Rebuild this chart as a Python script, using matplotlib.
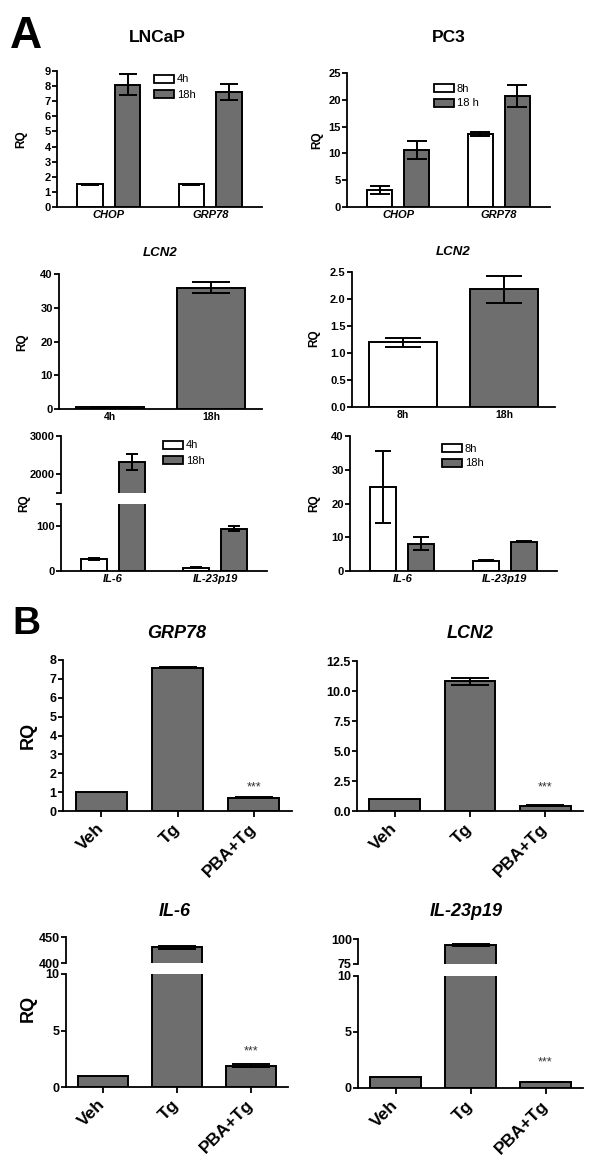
import numpy as np
import matplotlib
matplotlib.use("Agg")
import matplotlib.pyplot as plt
from matplotlib.patches import Patch
from matplotlib.ticker import FormatStrFormatter

plt.rcParams['font.family'] = ['Liberation Sans', 'DejaVu Sans']
plt.rcParams['font.weight'] = 'bold'

# ---------------- data ----------------
er_genes = ['CHOP', 'GRP78']
lncap_er_4h = [1.5, 1.5]
lncap_er_4h_err = [0.05, 0.05]
lncap_er_18h = [8.1, 7.6]
lncap_er_18h_err = [0.68, 0.52]

pc3_er_8h = [3.2, 13.6]
pc3_er_8h_err = [0.75, 0.3]
pc3_er_18h = [10.7, 20.7]
pc3_er_18h_err = [1.7, 2.0]

lncap_times = ['4h', '18h']
lncap_lcn2 = [0.6, 36.0]
lncap_lcn2_err = [0.05, 1.5]
pc3_times = ['8h', '18h']
pc3_lcn2 = [1.2, 2.18]
pc3_lcn2_err = [0.085, 0.25]

cyt_genes = ['IL-6', 'IL-23p19']
lncap_cyt_4h = [27, 7]
lncap_cyt_4h_err = [2, 1]
lncap_cyt_18h = [2320, 95]
lncap_cyt_18h_err = [210, 6]
pc3_cyt_8h = [24.8, 3.0]
pc3_cyt_8h_err = [10.7, 0.15]
pc3_cyt_18h = [8.1, 8.7]
pc3_cyt_18h_err = [1.9, 0.2]

treatments = ['Veh', 'Tg', 'PBA+Tg']
b_grp78 = [1.0, 7.6, 0.7]
b_grp78_err = [0.0, 0.04, 0.02]
b_lcn2 = [1.0, 10.8, 0.45]
b_lcn2_err = [0.0, 0.32, 0.03]
b_il6 = [1.0, 430, 1.9]
b_il6_err = [0.0, 3.0, 0.15]
b_il23 = [1.0, 94, 0.55]
b_il23_err = [0.0, 1.0, 0.02]

# ---------------- style ----------------
W, H = 600, 1161
GRAY = '#6e6e6e'
LW = 1.3
BLW = 1.4

fig = plt.figure(figsize=(W / 100, H / 100), dpi=100)


def add_ax(x0, yt, x1, yb):
    return fig.add_axes([x0 / W, 1 - yb / H, (x1 - x0) / W, (yb - yt) / H])


def ftxt(x, y, s, **kw):
    kw.setdefault('ha', 'center')
    kw.setdefault('va', 'center')
    fig.text(x / W, 1 - y / H, s, **kw)


def style(ax, ysize, bottom=True):
    ax.spines['top'].set_visible(False)
    ax.spines['right'].set_visible(False)
    ax.spines['left'].set_linewidth(LW)
    ax.spines['bottom'].set_linewidth(LW)
    if not bottom:
        ax.spines['bottom'].set_visible(False)
        ax.tick_params(axis='x', bottom=False, labelbottom=False)
    ax.tick_params(axis='y', direction='out', length=3.5, width=LW,
                   labelsize=ysize, pad=1)
    ax.set_facecolor('none')


def errs(ax, x, v, e, cs):
    x = np.asarray(x, float)
    v = np.asarray(v, float)
    e = np.asarray(e, float)
    m = e > 0
    if m.any():
        ax.errorbar(x[m], v[m], yerr=e[m], fmt='none', ecolor='black',
                    elinewidth=BLW, capsize=cs, capthick=BLW, zorder=3)


def grouped(ax, cats, s1, e1, s2, e2, cs=6):
    x = np.arange(len(cats))
    off, bw = 0.185, 0.25
    ax.bar(x - off, s1, bw, color='white', edgecolor='black', lw=BLW, zorder=2)
    ax.bar(x + off, s2, bw, color=GRAY, edgecolor='black', lw=BLW, zorder=2)
    errs(ax, x - off, s1, e1, cs)
    errs(ax, x + off, s2, e2, cs)
    ax.set_xlim(-0.51, 1.51)
    ax.set_xticks(x)
    ax.set_xticklabels(cats, style='italic', fontweight='bold', fontsize=8)
    ax.tick_params(axis='x', length=0, pad=2)


def single(ax, cats, vals, e, colors, cs=13.5):
    x = np.arange(len(cats))
    ax.bar(x, vals, 0.67, color=colors, edgecolor='black', lw=BLW, zorder=2)
    errs(ax, x, vals, e, cs)
    ax.set_xlim(-0.5, len(cats) - 0.5)
    ax.set_xticks(x)


def legend(ax, labels, x, y):
    h = [Patch(facecolor='white', edgecolor='black', lw=LW, label=labels[0]),
         Patch(facecolor=GRAY, edgecolor='black', lw=LW, label=labels[1])]
    ax.legend(handles=h, loc='upper left', bbox_to_anchor=(x / W, 1 - y / H),
              bbox_transform=fig.transFigure, frameon=False,
              prop={'size': 8, 'weight': 'normal'}, handlelength=1.8,
              handleheight=0.75, handletextpad=0.25, labelspacing=0.45,
              borderpad=0, borderaxespad=0)


ATK = 8  # tick label size panel A

# ---------------- Panel A ----------------
ftxt(10, 36, 'A', fontsize=32, ha='left', fontweight='bold')
ftxt(157, 38, 'LNCaP', fontsize=12.5)
ftxt(449, 38, 'PC3', fontsize=12.5)

# A1
ax = add_ax(57, 71, 262, 207)
grouped(ax, er_genes, lncap_er_4h, lncap_er_4h_err, lncap_er_18h, lncap_er_18h_err, cs=6.5)
ax.set_ylim(0, 9)
ax.set_yticks(range(0, 10))
style(ax, ATK)
legend(ax, ['4h', '18h'], 154, 74.5)
ftxt(21, 139, 'RQ', fontsize=8.5, rotation=90)

# A2
ax = add_ax(347, 73, 550, 207)
grouped(ax, er_genes, pc3_er_8h, pc3_er_8h_err, pc3_er_18h, pc3_er_18h_err, cs=7.5)
ax.set_ylim(0, 25)
ax.set_yticks(range(0, 26, 5))
style(ax, ATK)
legend(ax, ['8h', '18 h'], 434, 83.5)
ftxt(317, 140, 'RQ', fontsize=8.5, rotation=90)

# A3
ax = add_ax(59, 274, 262, 409)
single(ax, lncap_times, lncap_lcn2, lncap_lcn2_err, ['white', GRAY], cs=14)
ax.set_xticklabels(lncap_times, fontsize=7.5, fontweight='bold')
ax.tick_params(axis='x', length=0, pad=2)
ax.set_ylim(0, 40)
ax.set_yticks(range(0, 41, 10))
style(ax, ATK)
ftxt(160, 253, 'LCN2', fontsize=9.5, style='italic')
ftxt(22, 342, 'RQ', fontsize=8.5, rotation=90)

# A4
ax = add_ax(352, 272, 555, 407)
single(ax, pc3_times, pc3_lcn2, pc3_lcn2_err, ['white', GRAY], cs=13)
ax.set_xticklabels(pc3_times, fontsize=7.5, fontweight='bold')
ax.tick_params(axis='x', length=0, pad=2)
ax.set_ylim(0, 2.5)
ax.set_yticks(np.arange(0, 2.51, 0.5))
ax.yaxis.set_major_formatter(FormatStrFormatter('%.1f'))
style(ax, ATK)
ftxt(453, 252, 'LCN2', fontsize=9.5, style='italic')
ftxt(314, 338, 'RQ', fontsize=8.5, rotation=90)

# A5 (broken axis)
axu = add_ax(61, 436, 267, 493)
axl = add_ax(61, 504, 267, 571)
for a in (axu, axl):
    grouped(a, cyt_genes, lncap_cyt_4h, lncap_cyt_4h_err, lncap_cyt_18h, lncap_cyt_18h_err, cs=4.5)
axu.set_ylim(1500, 3000)
axu.set_yticks([1500, 2000, 3000])
axu.set_yticklabels(['', '2000', '3000'])
style(axu, ATK, bottom=False)
axl.set_ylim(0, 150)
axl.set_yticks([0, 100, 150])
axl.set_yticklabels(['0', '100', ''])
style(axl, ATK)
legend(axl, ['4h', '18h'], 163, 440.5)
ftxt(24, 503, 'RQ', fontsize=8.5, rotation=90)

# A6
ax = add_ax(350, 436, 557, 571)
grouped(ax, cyt_genes, pc3_cyt_8h, pc3_cyt_8h_err, pc3_cyt_18h, pc3_cyt_18h_err, cs=6)
ax.set_ylim(0, 40)
ax.set_yticks(range(0, 41, 10))
style(ax, ATK)
legend(ax, ['8h', '18h'], 442, 443.5)
ftxt(314, 503, 'RQ', fontsize=8.5, rotation=90)

# ---------------- Panel B ----------------
ftxt(12, 624, 'B', fontsize=28, ha='left', fontweight='bold')


def bxlabels(ax):
    ax.set_xticklabels(treatments, rotation=45, ha='right', va='center',
                       rotation_mode='anchor', fontsize=12.5, fontweight='bold')
    ax.tick_params(axis='x', length=4, width=LW, pad=7, direction='out')


def stars(ax, x, y, dy):
    ax.annotate('***', xy=(x, y), xytext=(0, dy), textcoords='offset points',
                ha='center', va='center', fontsize=9, fontweight='normal',
                color='#333333')


BTK = 9

# B1
ax = add_ax(63, 660, 292, 811)
single(ax, treatments, b_grp78, b_grp78_err, GRAY)
ax.set_ylim(0, 8)
ax.set_yticks(range(0, 9))
style(ax, BTK)
bxlabels(ax)
stars(ax, 2, b_grp78[2], 7.5)
ftxt(177, 633, 'GRP78', fontsize=13, style='italic')
ftxt(28, 735, 'RQ', fontsize=13, rotation=90)

# B2
ax = add_ax(357, 661, 583, 811)
single(ax, treatments, b_lcn2, b_lcn2_err, GRAY)
ax.set_ylim(0, 12.5)
ax.set_yticks(np.arange(0, 12.6, 2.5))
ax.yaxis.set_major_formatter(FormatStrFormatter('%.1f'))
style(ax, BTK)
bxlabels(ax)
stars(ax, 2, b_lcn2[2], 13)
ftxt(470, 633, 'LCN2', fontsize=13, style='italic')

# B3 (broken axis)
axu = add_ax(66, 937, 288, 963)
axl = add_ax(66, 974, 288, 1087)
for a in (axu, axl):
    single(a, treatments, b_il6, b_il6_err, GRAY)
axu.set_ylim(400, 450)
axu.set_yticks([400, 450])
style(axu, BTK, bottom=False)
axl.set_ylim(0, 10)
axl.set_yticks([0, 5, 10])
style(axl, BTK)
bxlabels(axl)
stars(axl, 2, b_il6[2] + b_il6_err[2], 9)
ftxt(175, 912, 'IL-6', fontsize=13, style='italic')
ftxt(28, 1008, 'RQ', fontsize=13, rotation=90)

# B4 (broken axis)
axu = add_ax(358, 939, 583, 964)
axl = add_ax(358, 976, 583, 1088)
for a in (axu, axl):
    single(a, treatments, b_il23, b_il23_err, GRAY)
axu.set_ylim(75, 100)
axu.set_yticks([75, 100])
style(axu, BTK, bottom=False)
axl.set_ylim(0, 10)
axl.set_yticks([0, 5, 10])
style(axl, BTK)
bxlabels(axl)
stars(axl, 2, b_il23[2], 14)
ftxt(466, 912, 'IL-23p19', fontsize=13, style='italic')

fig.savefig('out.png', dpi=100, facecolor='white')
